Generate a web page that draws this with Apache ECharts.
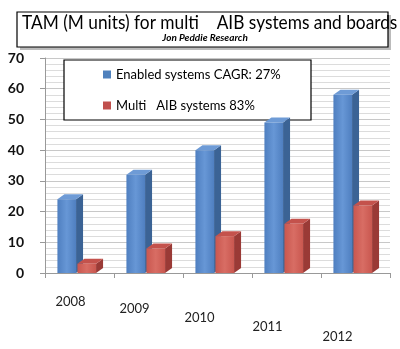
<!DOCTYPE html>
<html>
<head>
<meta charset="utf-8">
<script src="https://cdn.jsdelivr.net/npm/echarts@6/dist/echarts.min.js"></script>
<style>html,body{margin:0;padding:0;background:#fff}#c{width:400px;height:349px}</style>
</head>
<body>
<div id="c"></div>
<script>
const years = ['2008', '2009', '2010', '2011', '2012'];
const enabledSystems = [24, 32, 40, 49, 58];
const multiAIB = [3, 8, 12, 16, 22];
const seriesNames = ['Enabled systems CAGR: 27%', 'Multi   AIB systems 83%'];
const titleText = 'TAM (M units) for multi    AIB systems and boards';
const subtitleText = 'Jon Peddie Research';

const chart = echarts.init(document.getElementById('c'));

function prism(offsetFrac, widthFrac, frontA, frontB, sideC, topC) {
  return function (params, api) {
    const i = api.value(0), v = api.value(1);
    const top = api.coord([i, v]);
    const base = api.coord([i, 0]);
    const band = api.size([1, 0])[0];
    const x0 = top[0] + offsetFrac * band, w = widthFrac * band;
    const dx = 7, dy = 5;
    const y0 = top[1], y1 = base[1];
    return {
      type: 'group',
      children: [
        { type: 'polygon', shape: { points: [[x0 + w, y0], [x0 + w + dx, y0 - dy], [x0 + w + dx, y1 - dy], [x0 + w, y1]] }, style: { fill: sideC } },
        { type: 'polygon', shape: { points: [[x0, y0], [x0 + dx, y0 - dy], [x0 + w + dx, y0 - dy], [x0 + w, y0]] }, style: { fill: topC } },
        { type: 'rect', shape: { x: x0, y: y0, width: w, height: y1 - y0 },
          style: { fill: new echarts.graphic.LinearGradient(0, 0, 1, 0, [{ offset: 0, color: frontA }, { offset: 0.5, color: frontB }, { offset: 1, color: frontA }]) } }
      ]
    };
  };
}

const labelShift = [[14, 18], [21, 28], [30, 36], [39, 38], [49, 36]];
const rich = {};
labelShift.forEach((p, i) => { rich['l' + i] = { padding: [p[0], p[1], 0, 0], fontSize: 13, color: '#222', fontFamily: 'Lato' }; });

chart.setOption({
  animation: false,
  backgroundColor: '#fff',
  graphic: [
    { type: 'rect', z: 0, shape: { x: 20, y: 15, width: 371, height: 35 }, style: { fill: '#bbb' } },
    { type: 'rect', z: 1, shape: { x: 17, y: 12, width: 371, height: 35 }, style: { fill: '#fff', stroke: '#000', lineWidth: 1.2 } },
    { type: 'rect', z: 1, shape: { x: 64, y: 60, width: 247, height: 60 }, style: { fill: '#fff', stroke: '#000', lineWidth: 1.2 } },
    { type: 'text', z: 3, x: 22, y: 13, scaleX: 0.91, style: { text: titleText, fontFamily: 'Lato', fontSize: 19, fill: '#000' } },
    { type: 'text', z: 3, x: 205, y: 33, style: { text: subtitleText, textAlign: 'center', fontFamily: 'Lato', fontWeight: 'bold', fontStyle: 'italic', fontSize: 10, fill: '#000' } }
  ],
  legend: {
    orient: 'vertical', left: 103, top: 68, padding: 0, itemGap: 18, itemWidth: 8, itemHeight: 8, z: 5,
    textStyle: { fontFamily: 'Lato', fontSize: 13, color: '#000' },
    data: [{ name: seriesNames[0], icon: 'rect' }, { name: seriesNames[1], icon: 'rect' }]
  },
  grid: { left: 45, right: 10, top: 58, bottom: 76, outerBoundsMode: 'none', containLabel: false },
  xAxis: {
    type: 'category', data: years,
    axisLine: { lineStyle: { color: '#999' } },
    axisTick: { show: true, alignWithLabel: false, lineStyle: { color: '#999' } },
    axisLabel: { margin: 8, formatter: (v, i) => '{l' + i + '|' + v + '}', rich: rich }
  },
  yAxis: {
    type: 'value', min: 0, max: 70, interval: 10,
    axisLine: { show: true, lineStyle: { color: '#999' } },
    axisTick: { show: true, lineStyle: { color: '#999' } },
    axisLabel: { margin: 21, fontFamily: 'Lato', fontWeight: 'bold', fontSize: 14, color: '#111' },
    splitLine: { show: true, lineStyle: { color: '#c8c8c8' } },
    minorTick: { show: false, splitNumber: 5 },
    minorSplitLine: { show: true, lineStyle: { color: '#dcdcdc' } }
  },
  series: [
    { name: seriesNames[0], type: 'custom', itemStyle: { color: '#4f81bd' }, encode: { x: 0, y: 1 },
      renderItem: prism(-0.32, 0.27, '#4f7fc0', '#6797d6', '#3b6395', '#6e9bd6'),
      data: years.map((y, i) => [i, enabledSystems[i]]) },
    { name: seriesNames[1], type: 'custom', itemStyle: { color: '#c0504d' }, encode: { x: 0, y: 1 },
      renderItem: prism(-0.03, 0.27, '#c9574f', '#d86d64', '#9a3a36', '#c4524c'),
      data: years.map((y, i) => [i, multiAIB[i]]) }
  ]
});
</script>
</body>
</html>
